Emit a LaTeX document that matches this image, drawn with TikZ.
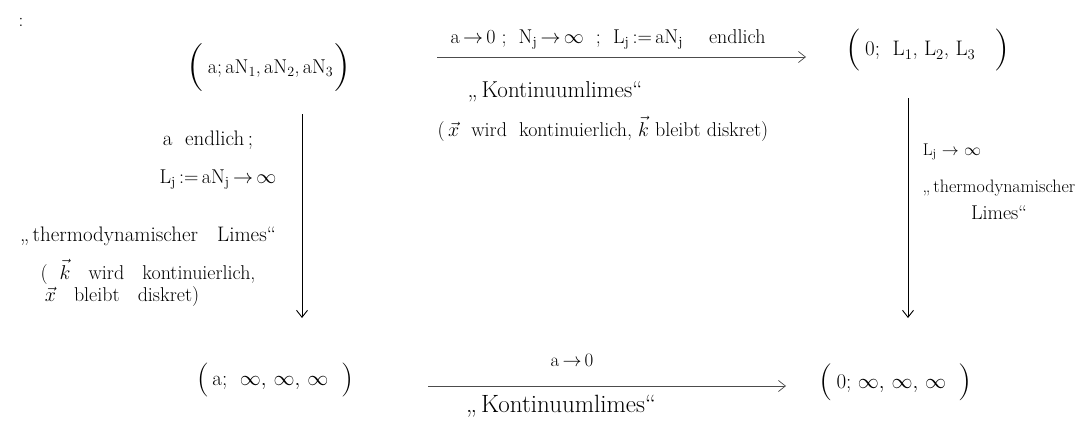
\RequirePackage{fix-cm}
\documentclass[tikz,border=0pt]{standalone}
\usetikzlibrary{arrows.meta}
\newcommand{\fs}[1]{\fontsize{#1}{#1}\selectfont}
\newcommand{\PL}[2]{\raisebox{#2}{\fs{#1}(}}
\newcommand{\PR}[2]{\raisebox{#2}{\fs{#1})}}
\newcommand{\sub}[1]{\textsubscript{#1}}
\begin{document}
\begin{tikzpicture}[x=1pt,y=-1pt,
  state/.style={inner sep=1pt, font=\fs{21}},
  lbl/.style={inner sep=1pt, font=\fs{19}},
  harrow/.style={draw=black!70, line width=0.7pt, -{Straight Barb[length=7pt,width=11pt]}},
  varrow/.style={draw=black, line width=0.9pt, -{Straight Barb[length=7pt,width=11pt]}}]
\useasboundingbox (0,0) rectangle (1082,439);
\node[lbl] (colon) at (21,22) {:};
\node[state, font=\fs{20}] (tl) at (269,68) {\PL{48}{-6pt}\,a;\,aN\sub{1},\,aN\sub{2},\,aN\sub{3}\PR{48}{-6pt}};
\node[state] (tr) at (928,50) {\PL{42}{-4.5pt}\,0;\ \ L\sub{1},\ L\sub{2},\ L\sub{3}\ \ \ \PR{42}{-4.5pt}};
\node[state] (bl) at (275,380) {\PL{34}{-2.5pt}\,a;\ \ $\infty,\,\infty,\,\infty$\ \ \PR{34}{-2.5pt}};
\node[state] (br) at (896,382) {\PL{37}{-3pt}\,0;\ $\infty,\,\infty,\,\infty$\ \ \PR{37}{-3pt}};
\coordinate (t1) at (437,57); \coordinate (t2) at (806,57);
\coordinate (b1) at (428,386); \coordinate (b2) at (786,386);
\coordinate (l1) at (302,114); \coordinate (l2) at (302,318);
\coordinate (r1) at (908,98); \coordinate (r2) at (908,318);
\draw[harrow] (t1) -- (t2);
\draw[harrow] (b1) -- (b2);
\draw[varrow] (l1) -- (l2);
\draw[varrow] (r1) -- (r2);
% top arrow labels
\node[lbl, font=\fs{20}] (ta) at (608,39) {a\,$\to$\,0\ ;\ \ N\sub{j}\,$\to$\,$\infty$\ \ ;\ \ L\sub{j}\,:=\,aN\sub{j}\quad\ endlich};
\node[lbl, font=\fs{23}] (tk) at (555,92) {„\,Kontinuumlimes“};
\node[lbl, font=\fs{20}] (tx) at (603,129) {(\,$\vec x$\ \ wird\ \ kontinuierlich, $\vec k$ bleibt diskret)};
% left arrow labels
\node[lbl, font=\fs{21}] (la) at (208,140) {a\ \ endlich\,;};
\node[lbl, font=\fs{20}] (lb) at (218,180) {L\sub{j}\,:=\,aN\sub{j}\,$\to$\,$\infty$};
\node[lbl, font=\fs{21}] (lc) at (148,236) {„\,thermodynamischer\ \ \ Limes“};
\node[lbl, font=\fs{20}] (ld) at (148,272) {(\ \ $\vec k$\ \ \ wird\ \ \ kontinuierlich,};
\node[lbl, font=\fs{20}] (le) at (122,297) {$\vec x$\ \ \ bleibt\ \ \ diskret)};
% right arrow labels
\node[lbl, font=\fs{17}] (ra) at (952,152) {L\sub{j}\ $\to$\ $\infty$};
\node[lbl, font=\fs{18}] (rb) at (999,188) {„\,thermodynamischer};
\node[lbl, font=\fs{20}] (rc) at (999,213) {Limes“};
% bottom arrow labels
\node[lbl, font=\fs{19}] (ba) at (572,360) {a\,$\to$\,0};
\node[lbl, font=\fs{25}] (bk) at (561,406) {„\,Kontinuumlimes“};
\end{tikzpicture}
\end{document}
